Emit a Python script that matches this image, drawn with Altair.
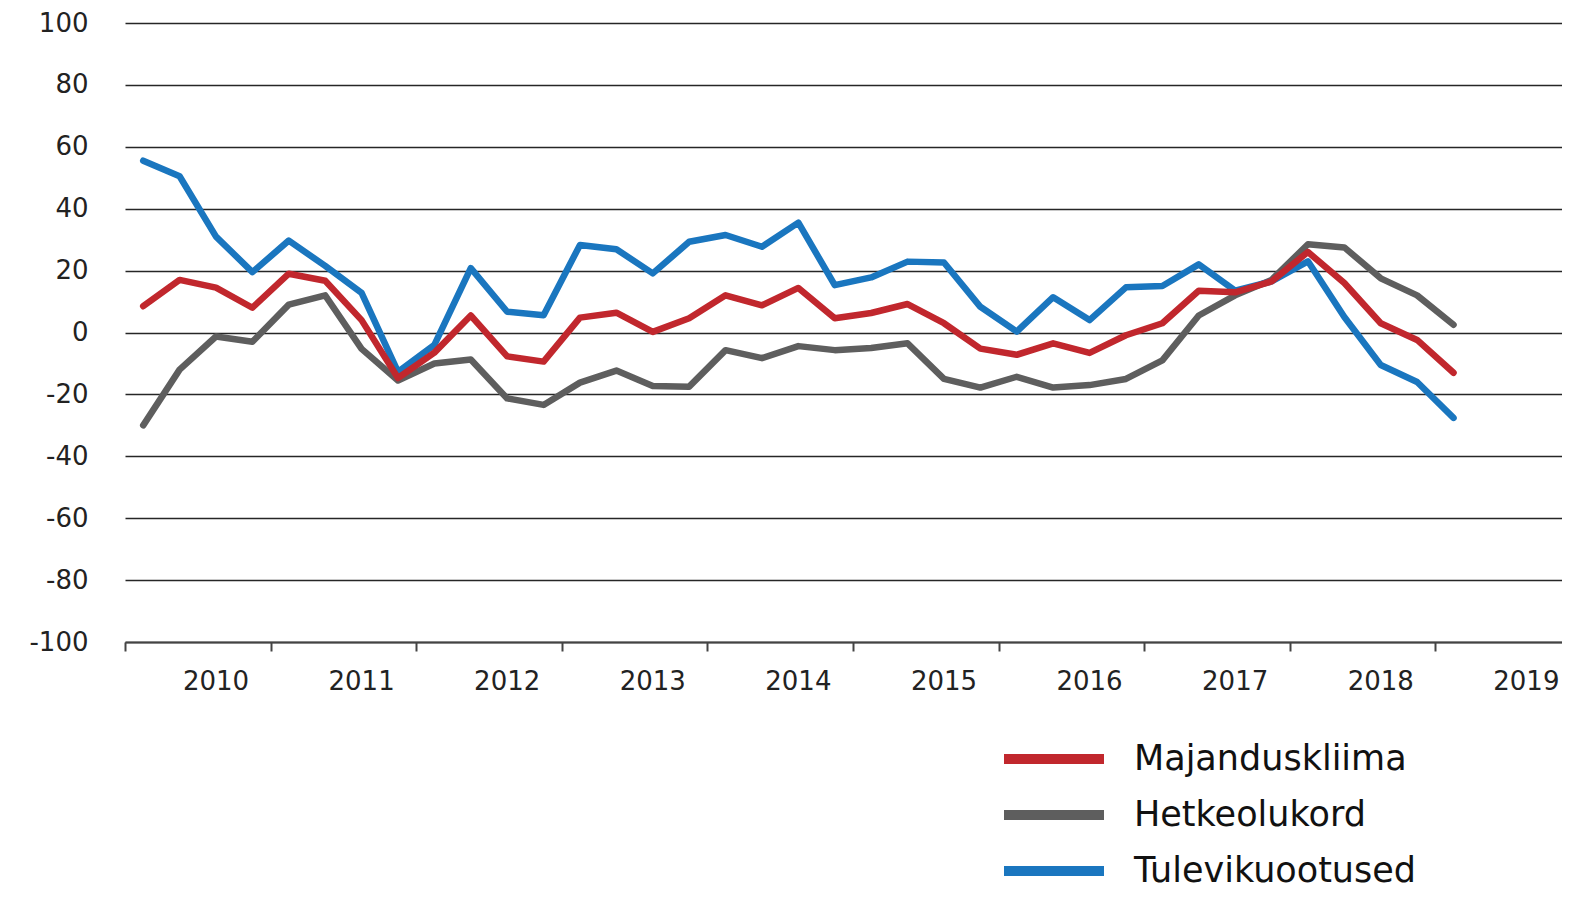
import altair as alt
import pandas as pd

# Quarterly index 0..36; ticks split the years, labels sit between ticks
series_names = ["Majanduskliima", "Hetkeolukord", "Tulevikuootused"]
majanduskliima = [8.5, 17, 14.5, 8, 19, 16.7, 4, -14.7, -6.5, 5.5, -7.7, -9.4, 4.8, 6.4, 0.2, 4.6,
                  12, 8.8, 14.4, 4.6, 6.3, 9.2, 3, -5.2, -7.2, -3.5, -6.6, -0.9, 3, 13.5, 13, 16.5,
                  26, 16, 3, -2.4, -13]
hetkeolukord = [-30, -12, -1.3, -3, 9, 12, -5.3, -15.5, -10, -8.7, -21.3, -23.4, -16.2, -12.3, -17.3,
                -17.5, -5.7, -8.3, -4.4, -5.7, -5, -3.5, -15, -17.8, -14.3, -17.8, -17, -15, -9, 5.5,
                12, 17, 28.5, 27.5, 17.5, 12, 2.5]
tulevikuootused = [55.5, 50.5, 31, 19.5, 29.7, 21.5, 12.8, -12.7, -4, 20.8, 6.7, 5.6, 28.3, 26.9, 19.1,
                   29.3, 31.5, 27.7, 35.5, 15.3, 17.8, 22.9, 22.6, 8.3, 0.3, 11.4, 4, 14.6, 15, 22,
                   13.5, 16.5, 23, 5, -10.5, -16, -27.6]
year_ticks = [-0.5, 3.5, 7.5, 11.5, 15.5, 19.5, 23.5, 27.5, 31.5, 35.5]
year_labels = ["2010", "2011", "2012", "2013", "2014", "2015", "2016", "2017", "2018", "2019"]
year_label_pos = [2, 6, 10, 14, 18, 22, 26, 30, 34, 38]
y_ticks = [-100, -80, -60, -40, -20, 0, 20, 40, 60, 80, 100]
colors = ["#c1272d", "#5e5e5e", "#1a76bf"]

rows = []
# draw order: grey, blue, red (red on top)
for name, vals in [("Hetkeolukord", hetkeolukord), ("Tulevikuootused", tulevikuootused),
                   ("Majanduskliima", majanduskliima)]:
    for i, v in enumerate(vals):
        rows.append({"q": i, "value": v, "series": name})
df = pd.DataFrame(rows)
labels_df = pd.DataFrame({"q": year_label_pos, "label": year_labels})

xscale = alt.Scale(domain=[-0.5, 38.98], nice=False, zero=False)
yscale = alt.Scale(domain=[-100, 100], nice=False)

lines = alt.Chart(df).mark_line(strokeWidth=6.5, strokeJoin="round", strokeCap="round").encode(
    x=alt.X("q:Q", scale=xscale,
            axis=alt.Axis(values=year_ticks, title=None, grid=False, labels=False,
                          tickSize=9, tickWidth=2, tickColor="#444444",
                          domainColor="#444444", domainWidth=2)),
    y=alt.Y("value:Q", scale=yscale,
            axis=alt.Axis(values=y_ticks, title=None, grid=True, gridColor="#262626",
                          gridWidth=1.6, ticks=False, domain=False, labelPadding=37,
                          labelExpr="toString(datum.value)",
                          labelFont="DejaVu Sans", labelFontSize=26, labelColor="#222222")),
    color=alt.Color("series:N",
                    scale=alt.Scale(domain=series_names, range=colors),
                    legend=alt.Legend(title=None, orient="none", legendX=904, legendY=711,
                                      symbolType="M-2.5,0H2.5", symbolSize=1600,
                                      symbolStrokeWidth=10,
                                      labelFont="DejaVu Sans", labelFontSize=35,
                                      labelColor="#111111", labelLimit=0,
                                      labelOffset=55, rowPadding=11, padding=0)),
)

year_text = alt.Chart(labels_df).mark_text(
    font="DejaVu Sans", fontSize=26, color="#222222", baseline="top", dy=27, align="center"
).encode(
    x=alt.X("q:Q", scale=xscale),
    y=alt.datum(-100, scale=yscale),
    text="label:N",
)

chart = alt.layer(lines, year_text).properties(
    width=1437, height=619,
    autosize=alt.AutoSizeParams(type="none"),
    padding={"left": 117, "top": 15, "right": 0, "bottom": 249},
).configure_view(stroke=None)

chart.save("out.html", embed_options={"renderer": "svg", "actions": False})
